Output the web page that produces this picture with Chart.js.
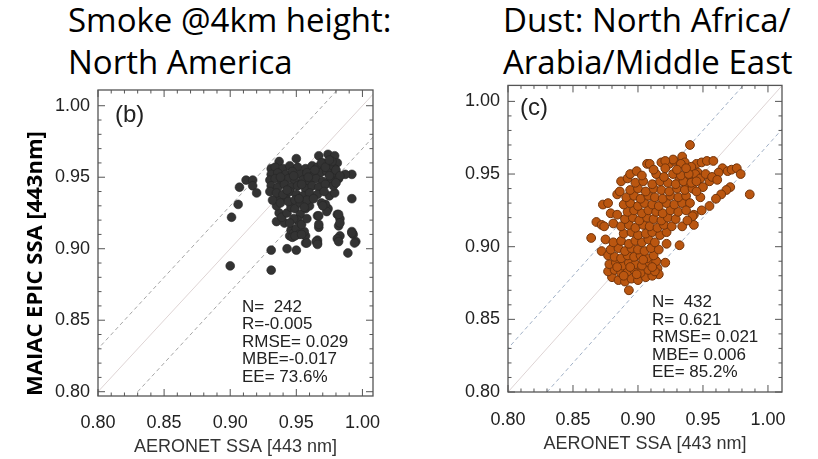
<!DOCTYPE html>
<html>
<head>
<meta charset="utf-8">
<script src="https://cdn.jsdelivr.net/npm/chart.js@4.4.1/dist/chart.umd.min.js"></script>
<style>
  body { margin: 0; background: #fff; width: 818px; height: 459px; position: relative; overflow: hidden; }
  .title { position: absolute; font-family: "Open Sans"; font-size: 33px; line-height: 42px; color: #000; white-space: nowrap; }
  canvas { position: absolute; }
</style>
</head>
<body>
<div class="title" style="left:68px; top:-1px;">Smoke @4km height:<br>North America</div>
<div class="title" style="left:503px; top:-1px;">Dust: North Africa/<br>Arabia/Middle East</div>
<canvas id="smoke" width="400" height="379" style="left:0; top:80px;"></canvas>
<canvas id="dust" width="408" height="379" style="left:410px; top:80px;"></canvas>
<script>
// axis ticks
const tickValues = [0.80, 0.85, 0.90, 0.95, 1.00];
const minorTicks = [0.80, 0.81, 0.82, 0.83, 0.84, 0.85, 0.86, 0.87, 0.88, 0.89, 0.90,
  0.91, 0.92, 0.93, 0.94, 0.95, 0.96, 0.97, 0.98, 0.99, 1.00];

// reference lines: 1:1 and EE envelope (+/-0.03)
const oneToOne = [[0.78, 0.78], [1.02, 1.02]];
const eeUpper = [[0.77, 0.80], [0.99, 1.02]];
const eeLower = [[0.83, 0.80], [1.05, 1.02]];

const smokeStats = ["N=  242", "R=-0.005", "RMSE= 0.029", "MBE=-0.017", "EE= 73.6%"];
const dustStats = ["N=  432", "R= 0.621", "RMSE= 0.021", "MBE= 0.006", "EE= 85.2%"];

// [AERONET SSA, MAIAC EPIC SSA]
const smokePoints = [
  [0.900,0.888],[0.901,0.922],[0.906,0.931],[0.907,0.943],[0.912,0.948],[0.917,0.948],[0.917,0.944],[0.920,0.939],
  [0.931,0.899],[0.931,0.885],[0.935,0.919],[0.941,0.918],[0.943,0.900],[0.950,0.899],[0.957,0.904],[0.966,0.904],
  [0.966,0.906],[0.967,0.915],[0.967,0.917],[0.966,0.923],[0.981,0.924],[0.983,0.921],[0.982,0.916],[0.983,0.909],
  [0.981,0.907],[0.989,0.897],[0.993,0.910],[0.995,0.905],[0.992,0.912],[0.992,0.935],[0.992,0.952],[0.987,0.952],
  [0.974,0.928],[0.972,0.931],[0.969,0.932],[0.975,0.937],[0.979,0.939],[0.967,0.965],[0.974,0.966],[0.979,0.965],
  [0.981,0.960],[0.979,0.956],[0.950,0.963],[0.937,0.961],[0.931,0.956],
  [0.945,0.909],[0.946,0.913],[0.948,0.911],[0.947,0.908],[0.957,0.909],[0.956,0.912],[0.950,0.914],[0.952,0.910],
  [0.949,0.909],[0.954,0.910],[0.958,0.904],[0.965,0.905],[0.966,0.903],[0.982,0.905],[0.994,0.904],[0.992,0.911],
  [0.937,0.925],[0.939,0.922],[0.943,0.925],[0.946,0.929],[0.949,0.928],[0.957,0.928],[0.960,0.930],[0.953,0.924],
  [0.935,0.930],[0.937,0.936],[0.942,0.936],[0.982,0.924],[0.983,0.918],[0.973,0.926],[0.970,0.930],[0.967,0.923],
  [0.934,0.957],[0.940,0.956],[0.945,0.958],[0.951,0.957],[0.957,0.956],[0.962,0.958],[0.966,0.957],[0.970,0.960],[0.975,0.958],
  [0.931,0.952],[0.936,0.953],[0.942,0.952],[0.947,0.954],[0.953,0.952],[0.958,0.953],[0.963,0.951],[0.968,0.953],[0.973,0.954],[0.977,0.951],
  [0.930,0.948],[0.934,0.949],[0.939,0.947],[0.944,0.949],[0.949,0.947],[0.955,0.948],[0.960,0.946],[0.965,0.949],[0.970,0.947],[0.976,0.948],[0.982,0.949],
  [0.931,0.944],[0.936,0.943],[0.941,0.945],[0.946,0.943],[0.951,0.944],[0.957,0.942],[0.962,0.944],[0.967,0.943],[0.972,0.945],[0.978,0.944],
  [0.930,0.940],[0.935,0.939],[0.940,0.938],[0.945,0.940],[0.950,0.938],[0.955,0.937],[0.960,0.939],[0.966,0.938],[0.971,0.940],
  [0.932,0.934],[0.938,0.932],[0.944,0.933],[0.949,0.934],[0.953,0.932],[0.958,0.934],[0.963,0.935],
  [0.938,0.950],[0.948,0.951],[0.954,0.945],[0.943,0.941],[0.959,0.950],[0.964,0.955],[0.952,0.935],[0.956,0.929],
  [0.951,0.920],[0.954,0.917],[0.948,0.921],[0.958,0.921],[0.945,0.918],
  [0.969,0.960],[0.972,0.957],[0.977,0.961],[0.980,0.955],[0.983,0.951],[0.975,0.951],[0.980,0.946],[0.975,0.962]
];

const dustPoints = [
  [0.893,0.870],[0.864,0.906],[0.868,0.917],[0.872,0.915],[0.872,0.897],[0.873,0.929],[0.877,0.930],[0.879,0.923],
  [0.884,0.936],[0.886,0.938],[0.887,0.945],[0.892,0.947],[0.894,0.950],[0.899,0.952],[0.907,0.957],[0.909,0.957],
  [0.918,0.958],[0.924,0.957],[0.928,0.959],[0.934,0.962],[0.940,0.970],[0.945,0.957],[0.949,0.958],[0.953,0.959],
  [0.958,0.959],[0.946,0.951],[0.965,0.954],[0.969,0.952],[0.972,0.953],[0.976,0.954],[0.979,0.950],[0.962,0.951],
  [0.971,0.941],[0.968,0.939],[0.964,0.936],[0.960,0.933],[0.955,0.928],[0.949,0.925],[0.948,0.934],[0.943,0.922],
  [0.943,0.915],[0.986,0.936],[0.932,0.901],[0.921,0.889],[0.915,0.885],[0.916,0.881],[0.875,0.905],[0.874,0.914],
  [0.881,0.916],[0.884,0.922],[0.942,0.921],[0.934,0.914],[0.922,0.902],[0.927,0.960],[0.921,0.959],[0.932,0.946],
  [0.937,0.942],[0.936,0.958],[0.941,0.955],[0.944,0.950],[0.948,0.947],[0.939,0.946],[0.933,0.957],
  [0.880,0.879],[0.885,0.877],[0.890,0.876],[0.895,0.878],[0.900,0.877],[0.906,0.879],[0.911,0.880],
  [0.877,0.883],[0.882,0.884],[0.887,0.882],[0.892,0.883],[0.897,0.884],[0.902,0.882],[0.908,0.884],[0.913,0.883],
  [0.878,0.888],[0.883,0.889],[0.888,0.887],[0.893,0.889],[0.898,0.888],[0.903,0.887],[0.909,0.889],[0.914,0.890],
  [0.877,0.894],[0.882,0.893],[0.887,0.892],[0.892,0.894],[0.897,0.893],[0.902,0.894],[0.907,0.892],[0.912,0.894],
  [0.879,0.898],[0.885,0.899],[0.890,0.897],[0.895,0.899],[0.900,0.898],[0.905,0.897],[0.910,0.899],[0.916,0.898],
  [0.881,0.903],[0.887,0.904],[0.893,0.902],[0.898,0.904],[0.903,0.903],[0.908,0.905],[0.913,0.903],
  [0.889,0.880],[0.899,0.881],[0.884,0.886],[0.904,0.891],[0.894,0.886],[0.911,0.886],
  [0.889,0.909],[0.895,0.910],[0.900,0.908],[0.906,0.909],[0.911,0.910],[0.917,0.908],[0.922,0.910],
  [0.887,0.914],[0.893,0.915],[0.898,0.913],[0.904,0.915],[0.909,0.914],[0.915,0.913],[0.920,0.915],[0.926,0.914],
  [0.890,0.919],[0.896,0.920],[0.901,0.918],[0.907,0.920],[0.912,0.919],[0.918,0.918],[0.923,0.920],[0.929,0.919],
  [0.892,0.924],[0.897,0.925],[0.903,0.923],[0.908,0.925],[0.914,0.924],[0.919,0.923],[0.925,0.925],[0.931,0.924],
  [0.889,0.929],[0.894,0.930],[0.900,0.928],[0.905,0.930],[0.911,0.929],[0.916,0.928],[0.922,0.930],[0.928,0.929],[0.934,0.930],
  [0.891,0.934],[0.897,0.935],[0.902,0.933],[0.908,0.935],[0.913,0.934],[0.919,0.933],[0.925,0.935],[0.931,0.934],[0.937,0.935],
  [0.894,0.939],[0.900,0.940],[0.906,0.938],[0.912,0.940],[0.918,0.939],[0.924,0.938],[0.930,0.940],[0.936,0.939],[0.942,0.940],
  [0.898,0.944],[0.904,0.945],[0.911,0.943],[0.917,0.945],[0.923,0.944],[0.929,0.943],[0.935,0.945],[0.941,0.944],
  [0.903,0.949],[0.914,0.950],[0.920,0.948],[0.927,0.950],[0.933,0.949],[0.939,0.950],
  [0.912,0.953],[0.921,0.954],[0.930,0.953],[0.937,0.954],
  [0.945,0.945],[0.950,0.941],[0.955,0.945],[0.952,0.950],[0.957,0.948],[0.961,0.946],[0.945,0.938],[0.940,0.930],
  [0.937,0.925],[0.938,0.918]
];

const TICK_FONT = { family: "Liberation Sans", size: 18 };

const framePlugin = {
  id: "frame",
  afterDraw(chart, args, opts) {
    const { ctx, chartArea: a, scales: { x, y } } = chart;
    ctx.save();
    ctx.strokeStyle = "#555";
    ctx.lineWidth = 1.3;
    ctx.strokeRect(a.left, a.top, a.right - a.left, a.bottom - a.top);
    ctx.lineWidth = 1;
    minorTicks.forEach(v => {
      const major = tickValues.some(t => Math.abs(t - v) < 1e-6);
      const len = major ? 7 : 3.5;
      const px = x.getPixelForValue(v);
      const py = y.getPixelForValue(v);
      ctx.beginPath();
      ctx.moveTo(px, a.bottom); ctx.lineTo(px, a.bottom - len);
      ctx.moveTo(px, a.top); ctx.lineTo(px, a.top + len);
      ctx.moveTo(a.left, py); ctx.lineTo(a.left + len, py);
      ctx.moveTo(a.right, py); ctx.lineTo(a.right - len, py);
      ctx.stroke();
    });
    ctx.fillStyle = "#222";
    ctx.textBaseline = "middle";
    ctx.font = '24px "Liberation Sans"';
    ctx.fillText(opts.label, a.left + opts.labelDx, a.top + opts.labelDy);
    ctx.font = '17px "Liberation Sans"';
    opts.stats.forEach((s, i) => ctx.fillText(s, a.left + 144, a.top + 217 + i * 17.6));
    ctx.restore();
  }
};

function refLine(pts, color, dash) {
  return {
    type: "line",
    data: pts.map(p => ({ x: p[0], y: p[1] })),
    showLine: true,
    borderColor: color,
    borderWidth: 1,
    borderDash: dash,
    pointRadius: 0,
    fill: false
  };
}

function makeChart(id, cfg) {
  return new Chart(document.getElementById(id), {
    type: "scatter",
    data: {
      datasets: [
        {
          data: cfg.points.map(p => ({ x: p[0], y: p[1] })),
          backgroundColor: cfg.fill,
          borderColor: cfg.edge,
          borderWidth: cfg.edgeWidth,
          pointRadius: 4.4
        },
        refLine(oneToOne, "rgb(222,212,212)", []),
        refLine(eeUpper, cfg.dashColor, [4, 3]),
        refLine(eeLower, cfg.dashColor, [4, 3])
      ]
    },
    options: {
      responsive: false,
      animation: false,
      layout: { padding: { left: 0, right: cfg.padRight, top: cfg.padTop, bottom: 0 } },
      plugins: {
        legend: { display: false },
        tooltip: { enabled: false },
        frame: { label: cfg.label, labelDx: cfg.labelDx, labelDy: cfg.labelDy, stats: cfg.stats }
      },
      scales: {
        x: {
          type: "linear",
          min: 0.80,
          max: cfg.xMax,
          afterBuildTicks: s => { s.ticks = tickValues.map(v => ({ value: v })); },
          afterFit: s => {
            s.height = cfg.xAxisHeight;
            s.paddingLeft = 0;
            s.paddingRight = 0;
          },
          grid: { display: false, drawTicks: false },
          border: { display: false },
          ticks: {
            padding: cfg.xTickPad,
            font: TICK_FONT,
            color: "#222",
            maxRotation: 0,
            autoSkip: false,
            callback: v => v.toFixed(2)
          },
          title: {
            display: true,
            text: "AERONET SSA [443 nm]",
            font: TICK_FONT,
            color: "#333",
            padding: { top: 0, bottom: cfg.xTitlePad }
          }
        },
        y: {
          type: "linear",
          min: cfg.yMin,
          max: 1.011,
          afterBuildTicks: s => { s.ticks = tickValues.map(v => ({ value: v })); },
          afterFit: s => {
            s.width = 98;
            s.paddingTop = 0;
            s.paddingBottom = 0;
          },
          grid: { display: false, drawTicks: false },
          border: { display: false },
          ticks: {
            padding: 8,
            font: TICK_FONT,
            color: "#222",
            autoSkip: false,
            callback: v => v.toFixed(2)
          },
          title: {
            display: cfg.yTitle,
            text: "MAIAC EPIC SSA [443nm]",
            align: "start",
            font: { family: "Open Sans", size: 22, weight: "bold" },
            color: "#000",
            padding: { top: 23, bottom: 0 }
          }
        }
      }
    },
    plugins: [framePlugin]
  });
}

makeChart("smoke", {
  points: smokePoints,
  fill: "#333333",
  edge: "#262626",
  edgeWidth: 0.6,
  dashColor: "rgb(165,165,165)",
  label: "(b)",
  labelDx: 17,
  labelDy: 25,
  stats: smokeStats,
  xMax: 1.008,
  yMin: 0.797,
  padRight: 27,
  padTop: 10,
  xAxisHeight: 63,
  xTickPad: 16,
  xTitlePad: 1,
  yTitle: true
});

makeChart("dust", {
  points: dustPoints,
  fill: "rgb(186,86,16)",
  edge: "rgb(115,52,10)",
  edgeWidth: 1,
  dashColor: "rgb(160,176,198)",
  label: "(c)",
  labelDx: 12,
  labelDy: 23,
  stats: dustStats,
  xMax: 1.0108,
  yMin: 0.80,
  padRight: 36,
  padTop: 4,
  xAxisHeight: 67,
  xTickPad: 17,
  xTitlePad: 4,
  yTitle: false
});
</script>
</body>
</html>
